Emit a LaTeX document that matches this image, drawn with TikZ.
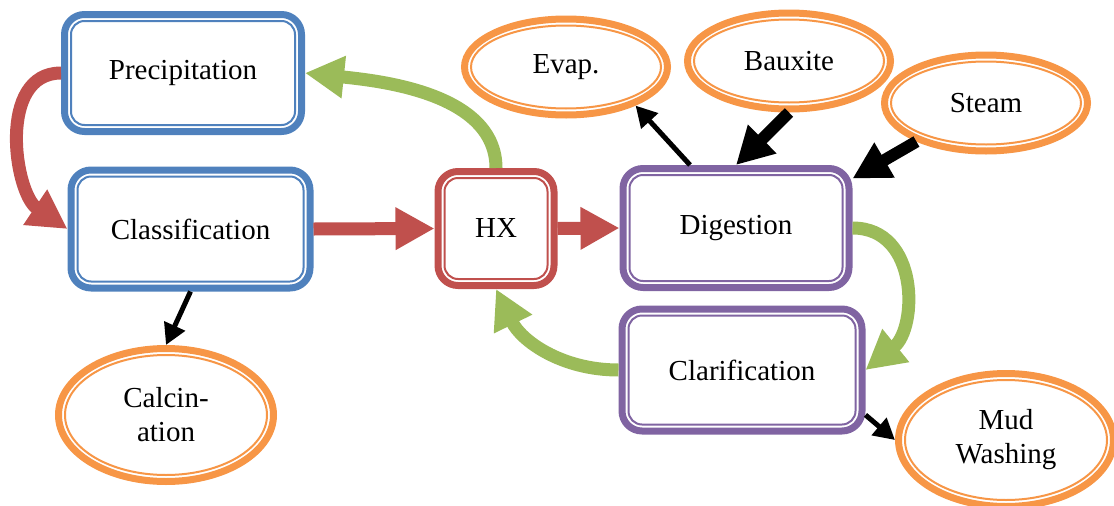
\documentclass[tikz,border=0pt]{standalone}
\usepackage{fontspec}
\setmainfont{Liberation Serif}
\usepackage{tikz}
\usetikzlibrary{shapes}
\usetikzlibrary{arrows.meta}
\usetikzlibrary{calc}
\usepackage{xcolor}
\definecolor{accBlue}{HTML}{4F81BD}
\definecolor{accRed}{HTML}{C0504D}
\definecolor{accGreen}{HTML}{9BBB59}
\definecolor{accPurple}{HTML}{8064A2}
\definecolor{accOrange}{HTML}{F79646}
\tikzset{mybox/.style={draw=#1, line width=0.14cm, rounded corners=0.4cm, fill=white, inner sep=0pt, align=center,
  font=\fontsize{16.5}{19.4}\selectfont,
  path picture={\draw[#1, line width=0.04cm, rounded corners=0.27cm]
    ([shift={(0.13,-0.13)}]path picture bounding box.north west) rectangle
    ([shift={(-0.13,0.13)}]path picture bounding box.south east);}}}
\tikzset{myellipse/.style={ellipse, draw=accOrange, line width=0.14cm, fill=white, inner sep=0pt, align=center,
  font=\fontsize{16.5}{19.4}\selectfont,
  path picture={\draw[accOrange, line width=0.04cm]
    let \p1=(path picture bounding box.north east), \p2=(path picture bounding box.center) in
    (\p2) ellipse [x radius={\x1-\x2-0.13cm}, y radius={\y1-\y2-0.13cm}];}}}
\tikzset{fatarrow/.style={draw=#1, line width=0.26cm, -{Triangle[width=0.8cm, length=0.78cm]}}}
\tikzset{thickarrow/.style={draw=black, line width=0.24cm, -{Triangle[width=0.76cm, length=0.74cm]}}}
\tikzset{thinarrow/.style={draw=black, line width=0.1cm, -{Triangle[width=0.44cm, length=0.42cm]}}}

\begin{document}
\begin{tikzpicture}

\useasboundingbox (0, 0) rectangle (22.28, -10.1);

\node[mybox=accBlue, minimum width=4.74cm, minimum height=2.34cm] (prec) at (3.66, -1.46) {Precipitation};
\node[mybox=accBlue, minimum width=4.78cm, minimum height=2.36cm] (clas) at (3.81, -4.58) {Classification};
\node[mybox=accRed, minimum width=2.32cm, minimum height=2.28cm] (hx) at (9.92, -4.57) {HX};
\node[mybox=accPurple, minimum width=4.52cm, minimum height=2.38cm] (dig) at (14.72, -4.56) {Digestion};
\node[mybox=accPurple, minimum width=4.80cm, minimum height=2.44cm] (clar) at (14.84, -7.40) {Clarification};

\node[myellipse, minimum width=4.06cm, minimum height=1.92cm] (evap) at (11.32, -1.34) {Evap.};
\node[myellipse, minimum width=4.06cm, minimum height=1.92cm] (baux) at (15.78, -1.22) {Bauxite};
\node[myellipse, minimum width=4.06cm, minimum height=1.92cm] (steam) at (19.72, -2.06) {Steam};
\node[myellipse, minimum width=4.3cm, minimum height=2.66cm] (calc) at (3.32, -8.30) {Calcin-\\ation};
\node[myellipse, minimum width=4.3cm, minimum height=2.66cm] (mud) at (20.12, -8.80) {Mud\\Washing};

\draw[fatarrow=accRed] (prec.west) to[out=180, in=146, looseness=1.05] (clas.west);
\draw[fatarrow=accRed] (clas.east) -- (hx.west);
\draw[fatarrow=accRed] (hx.east) -- (dig.west);
\draw[fatarrow=accGreen] (hx.north) to[out=90, in=-6, looseness=0.9] (prec.east);
\draw[fatarrow=accGreen] (dig.east) to[out=0, in=39, looseness=1.2] (clar.east);
\draw[fatarrow=accGreen] (clar.west) to[out=180, in=-64] (hx.south);

\draw[thinarrow] ([xshift=-0.92cm]dig.north) -- (evap.-29);
\draw[thickarrow] (baux.south) -- (dig.north);
\draw[thickarrow] (steam.209) -- (dig.23);
\draw[thinarrow] (clas.south) -- (calc.north);
\draw[thinarrow] (clar.-20) -- (mud.west);

\end{tikzpicture}
\end{document}
